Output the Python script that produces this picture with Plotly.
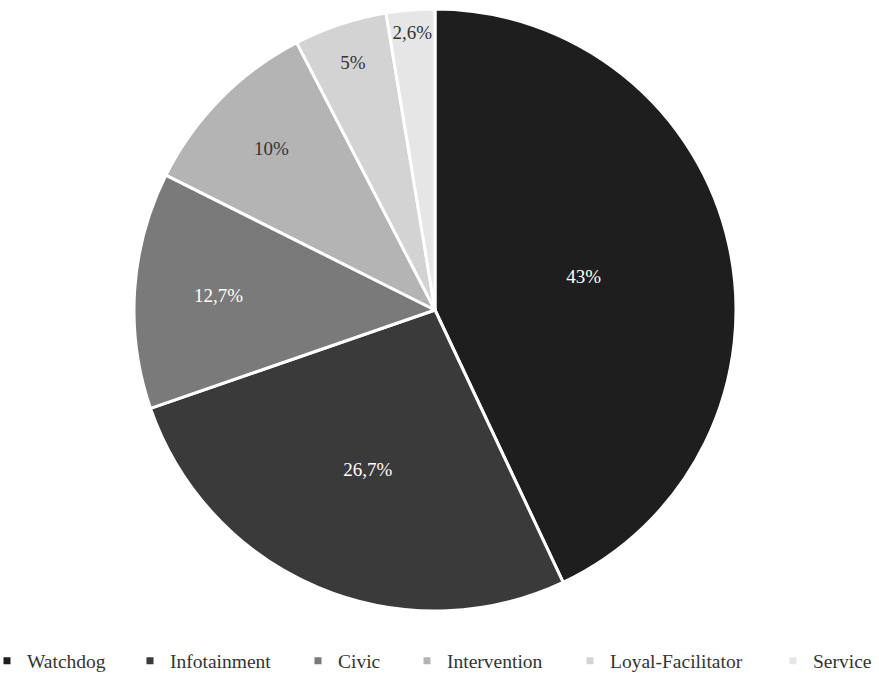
import plotly.graph_objects as go

categories = ["Watchdog", "Infotainment", "Civic", "Intervention", "Loyal-Facilitator", "Service"]
values = [43, 26.7, 12.7, 10, 5, 2.6]
value_labels = ["43%", "26,7%", "12,7%", "10%", "5%", "2,6%"]
colors = ["#1e1e1e", "#3a3a3a", "#7a7a7a", "#b4b4b4", "#d3d3d3", "#e6e6e6"]
text_colors = ["#ffffff", "#ffffff", "#ffffff", "#333333", "#333333", "#333333"]
# legend text start positions (px)
legend_text_x = [27, 170, 338, 447, 610, 813]

W, H = 879, 673
cx, cy, r = 435, 310, 301

fig = go.Figure()
fig.add_trace(go.Pie(
    labels=categories,
    values=values,
    text=value_labels,
    textinfo="text",
    textposition="inside",
    insidetextorientation="horizontal",
    insidetextfont=dict(family="Liberation Serif", size=19, color=text_colors),
    marker=dict(colors=colors, line=dict(color="#ffffff", width=3)),
    sort=False,
    direction="clockwise",
    rotation=0,
    hoverinfo="label+percent",
    showlegend=False,
    domain=dict(x=[(cx - r) / W, (cx + r) / W], y=[(H - cy - r) / H, (H - cy + r) / H]),
))

legend_layouts = {}
for i, (name, col) in enumerate(zip(categories, colors)):
    key = "legend" if i == 0 else f"legend{i + 1}"
    fig.add_trace(go.Scatter(
        x=[None], y=[None], mode="markers", name=name,
        marker=dict(symbol="square", size=7, color=col),
        legend=key, showlegend=True, hoverinfo="skip",
    ))
    legend_layouts[key] = dict(
        orientation="h",
        x=(legend_text_x[i] - 40) / W, xanchor="left",
        y=(H - 661) / H, yanchor="middle",
        font=dict(family="Liberation Serif", size=19.5, color="#333333"),
        bgcolor="rgba(0,0,0,0)",
        itemwidth=30,
    )

fig.update_layout(
    width=W, height=H,
    margin=dict(l=0, r=0, t=0, b=0, autoexpand=False),
    paper_bgcolor="#ffffff",
    plot_bgcolor="#ffffff",
    showlegend=True,
    xaxis=dict(visible=False),
    yaxis=dict(visible=False),
    **legend_layouts,
)

fig.write_html("out.html")
